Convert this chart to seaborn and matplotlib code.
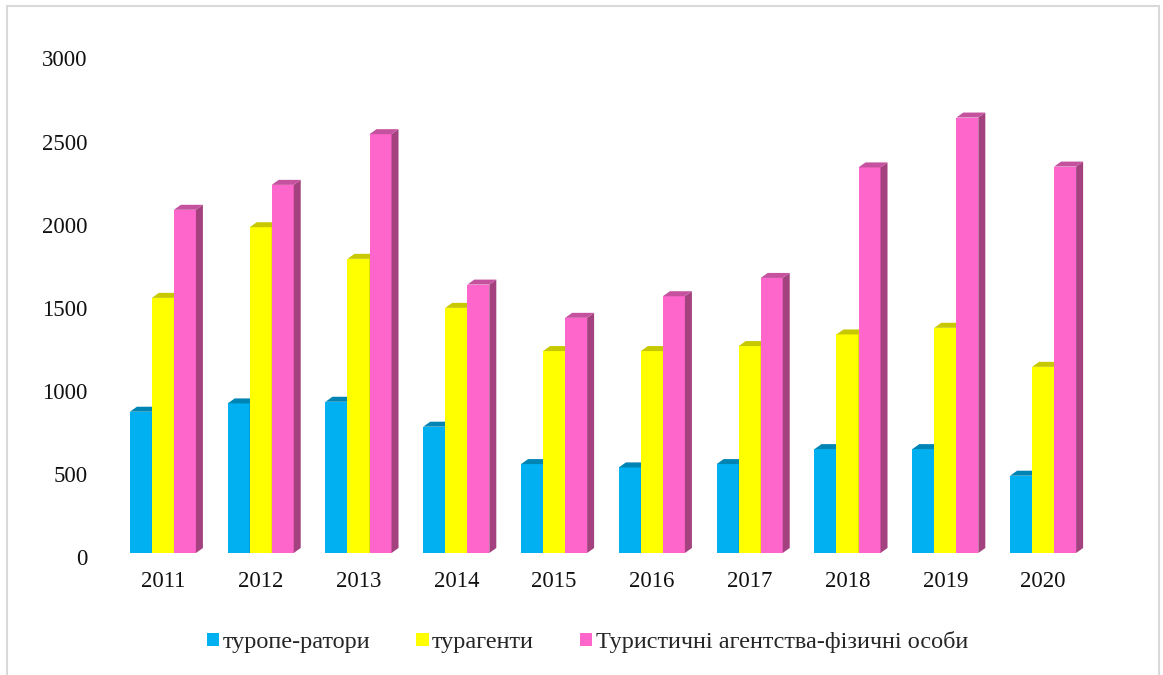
import matplotlib
matplotlib.use("Agg")
import matplotlib.pyplot as plt
import matplotlib.transforms as mtransforms
from matplotlib.patches import Polygon, Patch, Rectangle
import seaborn as sns
import pandas as pd

years = ["2011", "2012", "2013", "2014", "2015", "2016", "2017", "2018", "2019", "2020"]
touroperators = [850, 900, 910, 760, 535, 515, 535, 625, 625, 465]
travel_agents = [1535, 1960, 1770, 1475, 1215, 1215, 1245, 1315, 1355, 1120]
individual_agencies = [2065, 2215, 2520, 1615, 1415, 1545, 1655, 2320, 2620, 2325]
series_names = ["туропе-ратори", "турагенти", "Туристичні агентства-фізичні особи"]
yticks = [0, 500, 1000, 1500, 2000, 2500, 3000]

front_colors = ["#00B0F0", "#FFFF00", "#FF66CC"]
top_colors = ["#0084B4", "#C8C800", "#C4529E"]
side_colors = ["#0077A6", "#BEBE00", "#A4417F"]

rows = []
for name, vals in zip(series_names, [touroperators, travel_agents, individual_agencies]):
    for y, v in zip(years, vals):
        rows.append({"year": y, "value": v, "series": name})
df = pd.DataFrame(rows)

sns.set_theme(style="white")
plt.rcParams["font.family"] = ["Liberation Serif", "DejaVu Serif"]

W, H = 1163, 675
fig = plt.figure(figsize=(W / 100, H / 100), dpi=100)
ax = fig.add_axes([114 / W, 122 / H, (1092 - 114) / W, (553 - 54.4) / H])

sns.barplot(data=df, x="year", y="value", hue="series", order=years,
            hue_order=series_names, palette=front_colors, width=0.675, gap=0,
            linewidth=0, saturation=1, legend=False, ax=ax)

ax.set_xlim(-0.5, len(years) - 0.5)
ax.set_ylim(0, 3000)
ax.set_yticks(yticks)
ax.set_yticklabels([str(t) for t in yticks])
ax.set_xlabel("")
ax.set_ylabel("")
for s in ax.spines.values():
    s.set_visible(False)
ax.tick_params(axis="both", length=0, labelsize=16.5, labelcolor="#111111")
ax.tick_params(axis="y", pad=19)
ax.tick_params(axis="x", pad=13)
ax.grid(False)

shift = mtransforms.ScaledTranslation(0, -4 / 100, fig.dpi_scale_trans)
for lab in ax.get_yticklabels():
    lab.set_transform(lab.get_transform() + shift)

# pseudo-3D depth computed from pixel offsets
fig.canvas.draw()
inv = ax.transData.inverted()
p0 = inv.transform((0, 0))
p1 = inv.transform((7, 5))
dx, dy = p1[0] - p0[0], p1[1] - p0[1]

for i, cont in enumerate(ax.containers):
    base_z = 2 + i
    for bar in cont.patches:
        bar.set_zorder(base_z)
        x0 = bar.get_x()
        x1 = x0 + bar.get_width()
        h = bar.get_height()
        side = Polygon([(x1, 0), (x1 + dx, dy), (x1 + dx, h + dy), (x1, h)],
                       closed=True, facecolor=side_colors[i], edgecolor="none",
                       zorder=base_z + 0.5)
        top = Polygon([(x0, h), (x0 + dx, h + dy), (x1 + dx, h + dy), (x1, h)],
                      closed=True, facecolor=top_colors[i], edgecolor="none",
                      zorder=base_z + 0.5)
        ax.add_patch(side)
        ax.add_patch(top)

handles = [Patch(facecolor=c, edgecolor="none") for c in front_colors]
fig.legend(handles, series_names, loc="center", bbox_to_anchor=(587.5 / W, 33 / H),
           ncol=3, frameon=False, fontsize=17.5, handlelength=0.5, handleheight=0.45,
           handletextpad=0.15, columnspacing=1.9)

fig.patches.append(Rectangle((7 / W, -0.05), (1159 - 7) / W, 1.05 - 6 / H,
                             transform=fig.transFigure, fill=False,
                             edgecolor="#D9D9D9", linewidth=1.5))

fig.savefig("out.png", dpi=100)
